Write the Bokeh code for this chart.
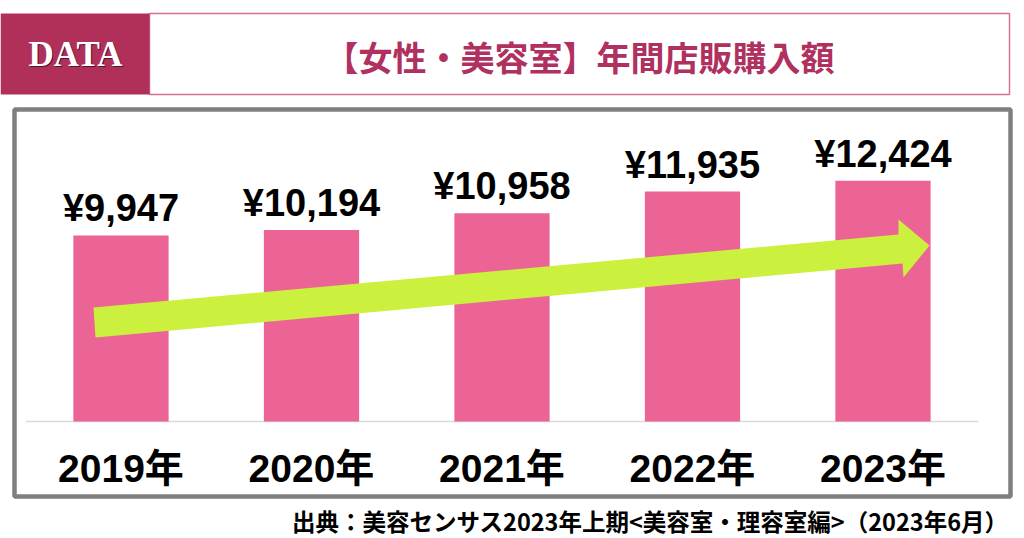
from bokeh.plotting import figure
from bokeh.models import Range1d
from bokeh.core.properties import value
from bokeh.embed import file_html
from bokeh.resources import INLINE

# ---- data ----
years = ["2019年", "2020年", "2021年", "2022年", "2023年"]
amounts = [9947, 10194, 10958, 11935, 12424]
amount_labels = ["¥{:,}".format(v) for v in amounts]
title_text = "【女性・美容室】年間店販購入額"
badge_text = "DATA"
source_text = "出典：美容センサス2023年上期<美容室・理容室編>（2023年6月）"

# ---- layout constants ----
W, H = 1024, 538
Y0 = 1530                      # value at chart baseline
X_START, X_END = -0.6325, 4.7428
Y_START, Y_END = -3764, 20580

BAR_COLOR = "#EC6496"
ACCENT = "#B03060"
ARROW_COLOR = "#CCF03E"
JP = value("Noto Sans CJK JP")
SANS_JP = value("Liberation Sans, 'Noto Sans CJK JP'")

p = figure(width=W, height=H, x_range=Range1d(X_START, X_END), y_range=Range1d(Y_START, Y_END),
           x_axis_location=None, y_axis_location=None, min_border=0,
           toolbar_location=None, output_backend="svg")
p.grid.visible = False
p.outline_line_color = None
p.background_fill_color = "white"
p.border_fill_color = "white"
p.extra_x_ranges = {"px": Range1d(0, W)}
p.extra_y_ranges = {"px": Range1d(0, H)}

# ---- header ----
p.quad(left=[149], right=[1009], top=[525], bottom=[444], fill_color="white",
       line_color="#D5709A", line_width=1.5, x_range_name="px", y_range_name="px")
p.quad(left=[0], right=[149], top=[525], bottom=[444], fill_color="#B0305A",
       line_color=None, x_range_name="px", y_range_name="px")
p.text(x=[76], y=[483], text=[badge_text], text_font=value("Liberation Serif"),
       text_font_style="bold", text_font_size="35px", text_color="#5A1030",
       text_align="center", text_baseline="middle", x_range_name="px", y_range_name="px")
p.text(x=[75], y=[484], text=[badge_text], text_font=value("Liberation Serif"),
       text_font_style="bold", text_font_size="35px", text_color="white",
       text_align="center", text_baseline="middle", x_range_name="px", y_range_name="px")
p.text(x=[579], y=[482], text=[title_text], text_font=JP, text_font_style="bold",
       text_font_size="34px", text_color=ACCENT, text_align="center", text_baseline="middle",
       x_range_name="px", y_range_name="px")

# ---- chart frame ----
p.quad(left=[14], right=[1010], top=[429], bottom=[42], fill_color=None,
       line_color="#7F7F7F", line_width=4.5, x_range_name="px", y_range_name="px")

# ---- bars ----
xs = list(range(len(years)))
p.segment(x0=[-0.5], x1=[len(years) - 0.5], y0=[Y0], y1=[Y0], line_color="#DADADA", line_width=1.5)
p.vbar(x=xs, width=0.5, bottom=Y0, top=amounts, fill_color=BAR_COLOR, line_color=None)

# ---- arrow (decoration, screen px) ----
arrow_x = [93, 898, 898, 929, 903, 902, 95]
arrow_y = [231, 304, 319, 293, 261, 275, 201]
p.patch(x=arrow_x, y=arrow_y, fill_color=ARROW_COLOR, line_color=None,
        x_range_name="px", y_range_name="px")

# ---- value labels ----
p.text(x=xs, y=amounts, text=amount_labels, y_offset=-27, text_font=value("Liberation Sans"),
       text_font_style="bold", text_font_size="38px", text_color="black",
       text_align="center", text_baseline="alphabetic")

# ---- category labels ----
p.text(x=xs, y=[70] * len(xs), text=years, text_font=SANS_JP, text_font_style="bold",
       text_font_size="39px", text_color="black", text_align="center", text_baseline="alphabetic",
       y_range_name="px")

# ---- source ----
p.text(x=[1008], y=[18], text=[source_text], text_font=JP, text_font_style="bold",
       text_font_size="23.5px", text_color="black", text_align="right", text_baseline="middle",
       x_range_name="px", y_range_name="px")

open("out.html", "w").write(file_html(p, INLINE))
